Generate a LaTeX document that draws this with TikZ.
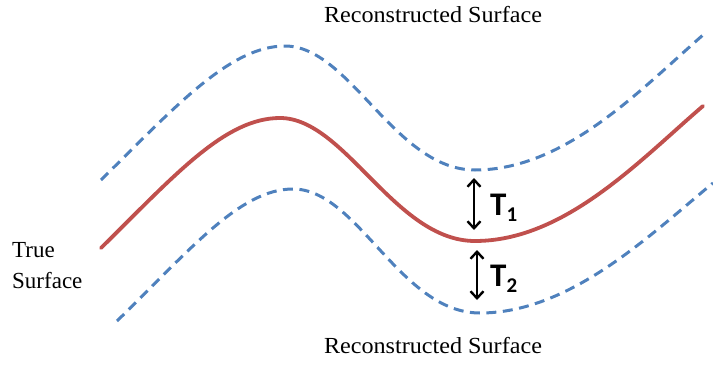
\documentclass[tikz,border=0pt]{standalone}
\usepackage{fontspec}
\setmainfont{Liberation Serif}
\newfontfamily\calfont{Carlito}
\usetikzlibrary{arrows.meta}
\definecolor{truered}{HTML}{C0504D}
\definecolor{recblue}{HTML}{4F81BD}
\tikzset{
  truecurve/.style={draw=truered, line width=3.8pt, line cap=round},
  reccurve/.style={draw=recblue, line width=3pt, dash pattern=on 10pt off 6.5pt},
  gaparrow/.style={draw=black, line width=2.4pt, {Straight Barb[length=7pt,width=13pt]}-{Straight Barb[length=7pt,width=13pt]}},
  serlabel/.style={inner sep=0pt, font=\fontsize{23}{27}\selectfont},
  tlabel/.style={inner sep=0pt, anchor=base west, font=\calfont\bfseries\fontsize{33}{33}\selectfont}
}
\begin{document}
\begin{tikzpicture}[x=1pt,y=-1pt]
\useasboundingbox (0,0) rectangle (713,367);
% true surface
\draw[truecurve] (101,248) .. controls (175,175) and (225,118) .. (280,118)
  .. controls (345,118) and (395,241) .. (475,241)
  .. controls (565,241) and (640,160) .. (703,106);
% upper reconstructed surface
\draw[reccurve] (101,180) .. controls (175,107) and (230,46) .. (285,46)
  .. controls (350,46) and (395,170) .. (475,170)
  .. controls (565,170) and (640,90) .. (703,35);
% lower reconstructed surface
\draw[reccurve] (117,321) .. controls (190,250) and (240,189) .. (293,189)
  .. controls (358,189) and (400,313) .. (480,313)
  .. controls (570,313) and (650,235) .. (713,183);
% gap arrows
\coordinate (a1t) at (474,178);
\coordinate (a1b) at (474,230);
\coordinate (a2t) at (477,250);
\coordinate (a2b) at (477,300);
\draw[gaparrow] (a1t) -- (a1b);
\draw[gaparrow] (a2t) -- (a2b);
\node[tlabel] (t1) at (490,215) {T\raisebox{-6pt}{\fontsize{21}{21}\selectfont 1}};
\node[tlabel] (t2) at (490,286) {T\raisebox{-6pt}{\fontsize{21}{21}\selectfont 2}};
% labels
\node[serlabel, anchor=base] (rtop) at (433,22) {\scalebox{1.05}[1]{Reconstructed Surface}};
\node[serlabel, anchor=base] (rbot) at (433,353) {\scalebox{1.05}[1]{Reconstructed Surface}};
\node[serlabel, anchor=base west] (true) at (12,257) {True};
\node[serlabel, anchor=base west] (surf) at (12,288) {Surface};
\end{tikzpicture}
\end{document}
